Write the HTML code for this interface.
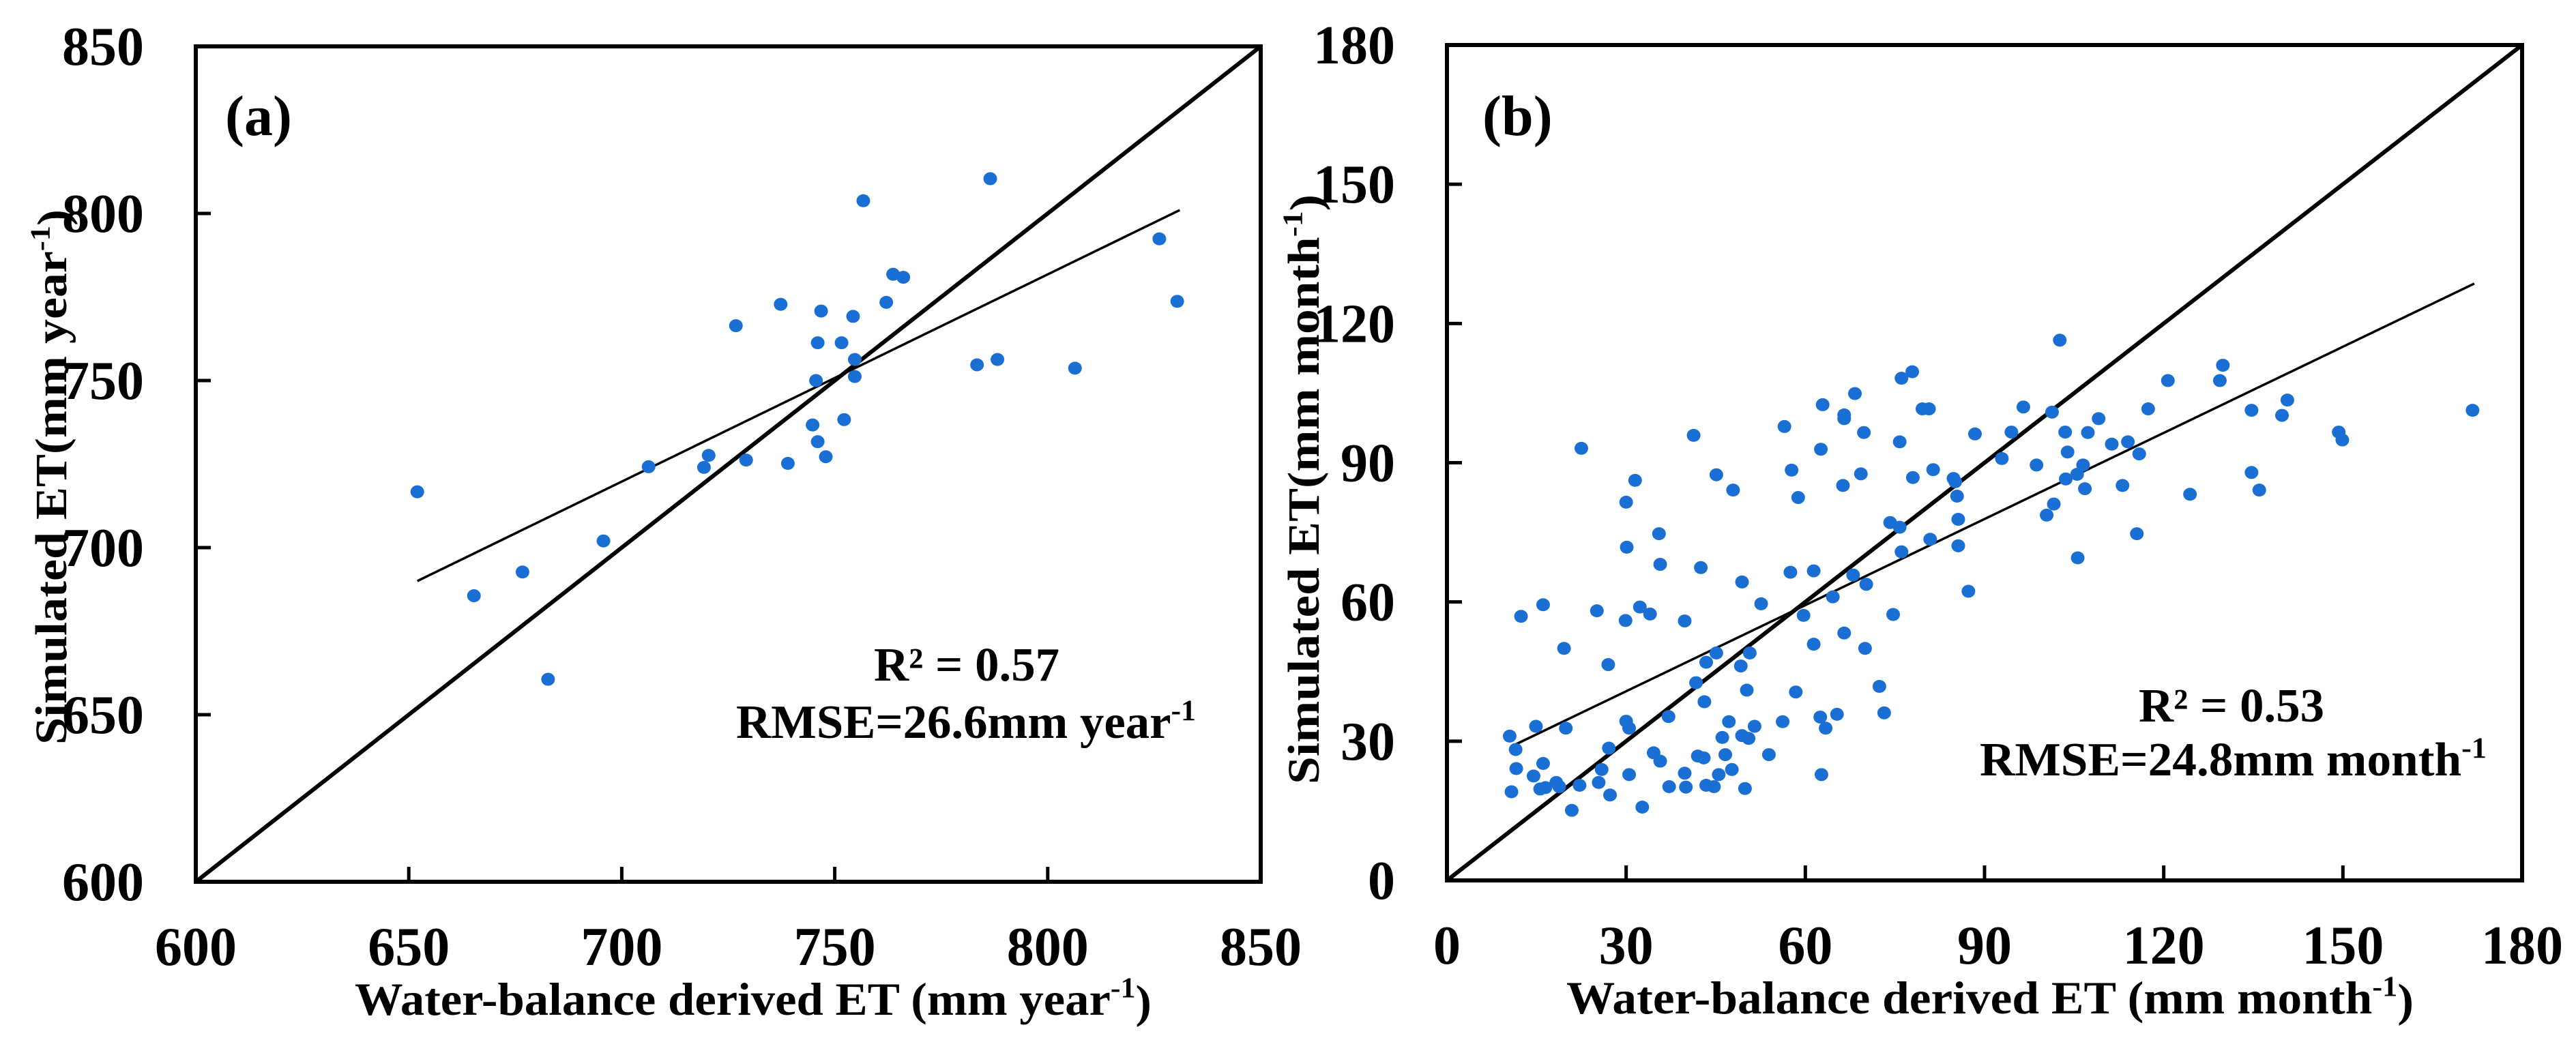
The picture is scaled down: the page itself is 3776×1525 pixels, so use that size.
<!DOCTYPE html>
<html><head><meta charset="utf-8"><style>
html,body{margin:0;padding:0;background:#fff;}
svg{display:block;}
text{font-family:"Liberation Serif",serif;font-weight:bold;fill:#000;}
</style></head><body>
<svg id="chart" width="3776" height="1525" viewBox="0 0 3776 1525" xmlns="http://www.w3.org/2000/svg"></svg>
<script>
// Panel (a) annual data
const aX = [652,665.3,676.7,682.7,695.7,706.3,719.3,720.4,729.2,739,726.8,737.3,744.8,746,747.9,745.6,746,746.8,751.6,752.2,754.3,754.7,754.7,756.7,762.1,763.7,766.1,783.4,786.5,788.2,806.4,826.2,830.4];
const aY = [716.7,685.6,692.7,660.6,702,724.2,724,727.6,726.2,725.2,766.4,772.8,736.7,731.7,727.2,750,761.3,770.8,761.3,738.3,769.2,756.3,751.2,803.8,773.4,781.8,780.9,754.7,810.4,756.3,753.7,792.4,773.7];
const aTicks = [600,650,700,750,800,850];
const aTrend = [[652,690],[831,801]];
// Panel (b) monthly data
const bX = [10.8,10.5,11.5,11.6,12.4,14.5,14.9,15.6,16.1,16.1,16.5,18.3,18.8,19.6,19.9,20.9,22.2,22.5,25.1,25.4,25.9,27,27.1,27.3,30,30.1,29.9,30,30.5,30.5,31.5,32.3,32.7,34,34.6,35.5,35.7,35.7,37.1,37.2,39.8,39.8,40,41.3,41.7,42,42.5,43,43.1,43.4,43.4,44.7,45.1,45.1,45.5,46.1,46.6,47.2,47.9,47.7,49.4,49.2,49.4,49.9,50.2,50.5,50.7,51.5,52.6,53.9,56.2,56.5,57.5,57.7,58.4,58.8,59.7,61.4,61.4,62.5,62.6,62.7,62.9,63.4,64.6,65.3,66.3,66.5,66.5,66.5,68,68.3,69.3,69.8,70,70.2,72.4,73.2,74.2,74.7,75.8,75.8,76.1,76.1,77.9,78,79.6,80.7,80.9,81.4,84.8,85.1,85.4,85.6,85.6,87.3,88.4,92.9,94.5,96.5,98.7,100.4,101.3,101.6,102.6,103.5,103.6,103.9,105.5,105.6,106.5,106.8,107.3,109.1,111.3,113.1,114,115.5,115.9,117.4,120.7,124.4,129.4,129.9,134.7,134.7,136,139.8,140.7,149.3,149.9,171.7];
const bY = [19.1,31.1,28.2,24.1,56.9,22.5,33.2,19.7,59.4,25.2,20,21.1,20.2,50,32.8,15.1,20.5,93.1,58.1,21.1,23.9,46.5,28.5,18.4,81.5,71.8,56,34.3,32.8,22.8,86.2,58.9,15.8,57.4,27.5,74.7,68.1,25.7,35.3,20.2,55.9,23.1,20.1,95.9,42.6,26.8,67.4,26.4,38.5,47,20.5,20.2,87.4,49,22.8,30.8,27.1,34.2,84.1,23.9,64.3,46.2,31.2,19.8,41,30.6,49,33.2,59.6,27.1,34.2,97.8,66.4,88.4,40.6,82.5,57.1,66.7,50.9,35.2,92.9,22.8,102.5,32.8,61.1,35.8,85.1,100.3,99.5,53.3,65.8,104.9,87.6,96.5,50,63.8,41.8,36.1,77.1,57.3,94.5,76.1,108.2,70.8,109.6,86.8,101.6,101.6,73.5,88.5,86.6,85.9,82.8,77.8,72.1,62.3,96.2,90.9,96.6,102,89.5,78.7,100.9,81.1,116.4,96.6,86.5,92.3,87.5,69.5,89.5,84.4,96.5,99.5,94,85.1,94.5,74.7,91.9,101.6,107.7,83.2,107.7,111,101.3,87.9,84.1,100.2,103.5,96.6,94.9,101.3];
const bTicks = [0,30,60,90,120,150,180];
const bTrend = [[11,29],[172,128.6]];

const NS='http://www.w3.org/2000/svg';
const svg=document.getElementById('chart');
function mk(tag,attrs,parent){const e=document.createElementNS(NS,tag);for(const k in attrs)e.setAttribute(k,attrs[k]);(parent||svg).appendChild(e);return e;}

function panel(cfg){
  const g=mk('g',{});
  
  
  const sx=v=>cfg.L+(v-cfg.min)/(cfg.max-cfg.min)*(cfg.R-cfg.L);
  const sy=v=>cfg.B-(v-cfg.min)/(cfg.max-cfg.min)*(cfg.B-cfg.T);
  // 1:1 line
  const d=mk('line',{x1:sx(cfg.min),y1:sy(cfg.min),x2:sx(cfg.max),y2:sy(cfg.max),stroke:'#000','stroke-width':6},g);
  
  
  // trend
  const t=mk('line',{x1:sx(cfg.trend[0][0]),y1:sy(cfg.trend[0][1]),x2:sx(cfg.trend[1][0]),y2:sy(cfg.trend[1][1]),stroke:'#000','stroke-width':3.5},g);
  
  
  // points
  for(let i=0;i<cfg.xs.length;i++){
    const c=mk('ellipse',{cx:sx(cfg.xs[i]),cy:sy(cfg.ys[i]),rx:10,ry:9.5,fill:'#1a6fd4'},g);
    
    
  }
  // frame
  const f=mk('rect',{x:cfg.L,y:cfg.T,width:cfg.R-cfg.L,height:cfg.B-cfg.T,fill:'none',stroke:'#000','stroke-width':6},g);
  
  
  // ticks
  cfg.ticks.forEach((v,i)=>{
    if(i>0&&i<cfg.ticks.length-1){
      const tx=mk('line',{x1:sx(v),y1:cfg.B,x2:sx(v),y2:cfg.B-22,stroke:'#000','stroke-width':5},g);
      
      
      const ty=mk('line',{x1:cfg.L,y1:sy(v),x2:cfg.L+22,y2:sy(v),stroke:'#000','stroke-width':5},g);
      
      
    }
    const lx=mk('text',{x:sx(v),y:cfg.B+122,'font-size':80,'text-anchor':'middle'},g);
    lx.textContent=v;
    
    
    const ly=mk('text',{x:cfg.L-76,y:sy(v)+27,'font-size':80,'text-anchor':'end'},g);
    ly.textContent=v;
    
    
  });
  return g;
}
panel({name:'panel-a',L:287,R:1848,T:68,B:1293,min:600,max:850,xs:aX,ys:aY,ticks:aTicks,trend:aTrend});
panel({name:'panel-b',L:2121,R:3697,T:66,B:1291,min:0,max:180,xs:bX,ys:bY,ticks:bTicks,trend:bTrend});
</script>
<script>
(function(){
const NS='http://www.w3.org/2000/svg';const svg=document.getElementById('chart');
function txt(x,y,size,html,name,extra){const e=document.createElementNS(NS,'text');e.setAttribute('x',x);e.setAttribute('y',y);e.setAttribute('font-size',size);for(const k in (extra||{}))e.setAttribute(k,extra[k]);e.innerHTML=html;svg.appendChild(e);


return e;}
const sup='<tspan font-size="0.62em" dy="-0.6em">-1</tspan>';
txt(330,198,84,'(a)','panel-a-label');
txt(2173,198,84,'(b)','panel-b-label');
txt(1281,998,70,'R² = 0.57','r2-annotation-a',{textLength:272,lengthAdjust:'spacingAndGlyphs'});
txt(1079,1082,70,'RMSE=26.6mm year'+sup,'rmse-annotation-a',{textLength:674,lengthAdjust:'spacingAndGlyphs'});
txt(3135,1058,70,'R² = 0.53','r2-annotation-b',{textLength:272,lengthAdjust:'spacingAndGlyphs'});
txt(2902,1137,70,'RMSE=24.8mm month'+sup,'rmse-annotation-b',{textLength:743,lengthAdjust:'spacingAndGlyphs'});
txt(520,1488,68,'Water-balance  derived  ET (mm year'+sup+'<tspan dy="0.42em">)</tspan>','x-axis-title-a',{textLength:1168,lengthAdjust:'spacingAndGlyphs'});
txt(2296,1486,68,'Water-balance  derived  ET (mm month'+sup+'<tspan dy="0.42em">)</tspan>','x-axis-title-b',{textLength:1242,lengthAdjust:'spacingAndGlyphs'});
txt(0,0,66,'Simulated  ET(mm year'+sup+'<tspan dy="0.42em">)</tspan>','y-axis-title-a',{transform:'translate(97,1092) rotate(-90)',textLength:785,lengthAdjust:'spacingAndGlyphs'});
txt(0,0,66,'Simulated  ET(mm month'+sup+'<tspan dy="0.42em">)</tspan>','y-axis-title-b',{transform:'translate(1933,1150) rotate(-90)',textLength:865,lengthAdjust:'spacingAndGlyphs'});
})();
</script>
</body></html>
